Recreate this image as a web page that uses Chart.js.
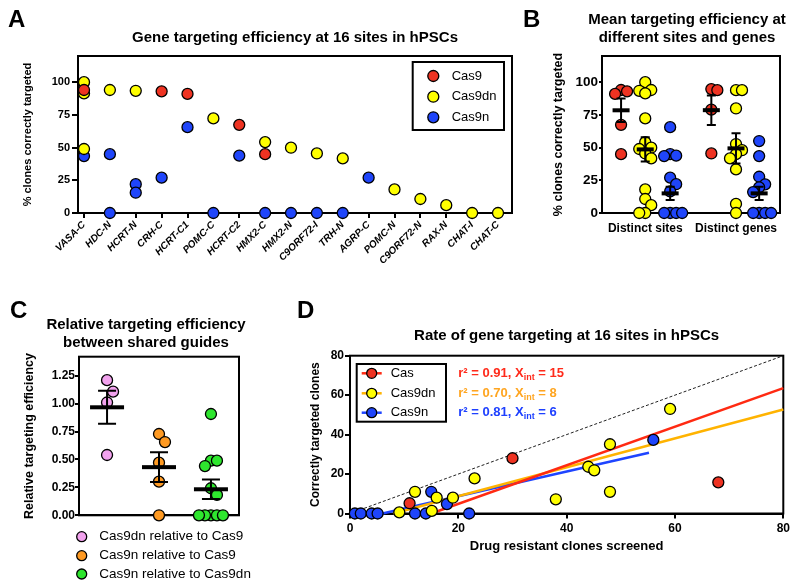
<!DOCTYPE html>
<html><head><meta charset="utf-8">
<script src="https://cdn.jsdelivr.net/npm/chart.js@4.4.1/dist/chart.umd.min.js"></script>
<style>
html,body{margin:0;padding:0;background:#fff;}
#wrap{position:relative;width:800px;height:586px;overflow:hidden;background:#fff;}
canvas{position:absolute;left:0;top:0;}
</style></head><body>
<div id="wrap">
<canvas id="cA" width="800" height="586"></canvas>
<canvas id="cB" width="800" height="586"></canvas>
<canvas id="cC" width="800" height="586"></canvas>
<canvas id="cD" width="800" height="586"></canvas>
</div>
<script>
// ================= DATA =================
// Panel A: % clones correctly targeted per site (one list of values per site)
const sitesA = ['VASA-C','HDC-N','HCRT-N','CRH-C','HCRT-C1','POMC-C','HCRT-C2','HMX2-C','HMX2-N','C9ORF72-I','TRH-N','AGRP-C','POMC-N','C9ORF72-N','RAX-N','CHAT-I','CHAT-C'];
const cas9A   = [[94],[],[],[93],[91],[],[67.4],[45],[],[],[],[],[],[],[],[],[]];
const cas9dnA = [[100,91.4,48.9],[94],[93.4],[],[],[72.3],[],[54.2],[49.9],[45.5],[41.7],[],[18],[10.7],[6],[0],[0]];
const cas9nA  = [[43.5],[45,0],[22,15.5],[27],[65.6],[0],[43.8],[0],[0],[0],[0],[27],[],[],[],[],[]];
const seriesA = ['Cas9','Cas9dn','Cas9n'];
const yTicksA = [0,25,50,75,100];

// Panel B: mean targeting efficiency
const groupsB = ['Distinct sites','Distinct genes'];
const sitesCas9B   = [94, 93, 91, 67.4, 45];
const sitesCas9dnB = [100, 94, 93.4, 91.4, 72.3, 54.2, 49.9, 48.9, 45.5, 41.7, 18, 10.7, 6, 0, 0];
const sitesCas9nB  = [65.6, 45, 43.8, 43.5, 27, 22, 16.5, 0, 0, 0, 0];
const genesCas9B   = [94.7, 93.9, 79, 45.5];
const genesCas9dnB = [93.9, 93.9, 79.9, 52.7, 48, 45, 41.7, 33.3, 6.9, 0];
const genesCas9nB  = [55, 43.5, 27.7, 21.9, 19.6, 16, 0, 0, 0, 0];
const meanSitesB = [78.5, 48.6, 15];
const semSitesB  = [9, 9.3, 5];
const meanGenesB = [78.6, 49.4, 15];
const semGenesB  = [11.3, 11.5, 5];

// Panel C: relative targeting efficiency
const labelsC = ['Cas9dn relative to Cas9','Cas9n relative to Cas9','Cas9n relative to Cas9dn'];
const dnVsCas9C = [1.21, 1.107, 1.01, 0.54];
const nVsCas9C  = [0.728, 0.656, 0.471, 0.301, 0];
const nVsDnC    = [0.907, 0.489, 0.489, 0.441, 0.242, 0.182, 0, 0, 0, 0, 0];
const meansC = [0.967, 0.431, 0.233];
const semsC  = [0.148, 0.133, 0.087];
const yTicksC = [0, 0.25, 0.5, 0.75, 1, 1.25];

// Panel D: correctly targeted clones vs drug resistant clones screened
const seriesD = ['Cas','Cas9dn','Cas9n'];
const casX    = [11, 30, 68];
const casY    = [5.2, 28, 15.8];
const cas9dnX = [9.1, 12, 15.1, 16, 19, 23, 38, 44, 45.1, 48, 48, 59.1];
const cas9dnY = [0.6, 11, 1.3, 8, 8, 17.8, 7.2, 23.7, 21.9, 35.1, 11, 53];
const cas9nX  = [0.9, 2, 4, 5.1, 12, 14, 15, 17.9, 22, 56];
const cas9nY  = [0, 0, 0, 0, 0, 0, 11, 4.8, 0, 37.3];
const fitR2    = [0.91, 0.70, 0.81];
const fitXint  = [15, 8, 6];
const fitSlope = [0.978, 0.732, 0.626];
const fitXmax  = [80, 80, 55.2];
const identityLine = [0, 80];
const ticksD = [0, 20, 40, 60, 80];

// ================= STYLE =================
const FONT = '"Liberation Sans", Arial, Helvetica, sans-serif';
Chart.defaults.font.family = FONT;
Chart.defaults.color = '#000';
const COL = {red:'#ee3322', yellow:'#ffff00', blue:'#1f45fa', pink:'#f2a2ee', orange:'#ff9a22', green:'#2ee62e',
  lineRed:'#ff2a12', lineOrange:'#ffb300', lineBlue:'#1e44ff', txtRed:'#ff2a1a', txtOrange:'#ffa520', txtBlue:'#1e40ff'};
const R = 5.5;

function fnt(size, weight='bold', style='normal'){ return {size, weight, style, family: FONT, lineHeight: 1.2}; }
function T(ctx, s, x, y, size, opt={}) {
  ctx.save();
  ctx.font = `${opt.style||'normal'} ${opt.weight||'bold'} ${size}px ${FONT}`;
  ctx.fillStyle = opt.color||'#000';
  ctx.textAlign = opt.align||'left';
  ctx.textBaseline = opt.base||'middle';
  ctx.fillText(s, x, y);
  const w = ctx.measureText(s).width;
  ctx.restore();
  return w;
}
function dot(ctx, x, y, r, fill) {
  ctx.save(); ctx.beginPath(); ctx.arc(x, y, r, 0, Math.PI*2);
  ctx.fillStyle = fill; ctx.fill(); ctx.lineWidth = 1.3; ctx.strokeStyle = '#000'; ctx.stroke(); ctx.restore();
}
function axis({min, max, ticks, size, tickFont, tickPad=2, tickLen=5, showTicks=true, showLabels=true, rot=0, fmt=(v)=>String(v), title=null, titleFont=null, titlePad=0}) {
  return {
    type:'linear', min, max,
    afterBuildTicks: s => { s.ticks = ticks.map(v => ({value:v})); },
    afterFit: s => { if (s.isHorizontal()) s.height = size; else s.width = size; },
    ticks: {display: showLabels, autoSkip:false, maxRotation:rot, minRotation:rot, font: tickFont||fnt(11), color:'#000', padding: tickPad, callback: fmt},
    grid: {display:true, drawOnChartArea:false, drawTicks: showTicks, tickLength: tickLen, tickWidth:2, tickColor:'#000', color:'#000', lineWidth:2},
    border: {display:true, color:'#000', width:2},
    title: title ? {display:true, text:title, font:titleFont, color:'#000', padding:titlePad} : {display:false}
  };
}
const framePlugin = {id:'frame', beforeDatasetsDraw(chart){
  const {ctx, chartArea:a} = chart; ctx.save(); ctx.strokeStyle='#000'; ctx.lineWidth=2;
  ctx.strokeRect(a.left, a.top, a.right-a.left, a.bottom-a.top); ctx.restore(); }};
function ptsDataset(points, color, label) {
  return {label, data: points, backgroundColor: color, borderColor:'#000', borderWidth:1.3,
    pointRadius:R, pointHoverRadius:R, clip:false};
}
function swarm(vals, pxX, pxY, slot, gap) {
  const idx = vals.map((_, i) => i).sort((a, b) => vals[b] - vals[a]);
  const placed = [], off = new Array(vals.length).fill(0);
  const tries = [0, 1, -1, 2, -2, 3, -3, 4, -4, 5, -5];
  idx.forEach(i => {
    for (const k of tries) {
      if (!placed.some(p => p.k === k && Math.abs(p.v - vals[i]) * pxY < gap)) {
        placed.push({k, v: vals[i]}); off[i] = k * slot / pxX; break;
      }
    }
  });
  return off;
}
function meanSemPlugin(groups, halfBar, halfCap, thick) {
  return {id:'meanSem', afterDatasetsDraw(chart) {
    const {ctx, scales:{x, y}} = chart;
    ctx.save(); ctx.strokeStyle='#000'; ctx.fillStyle='#000'; ctx.lineWidth=2;
    groups.forEach(g => {
      const cx = x.getPixelForValue(g.x), ym = y.getPixelForValue(g.mean);
      const yt = y.getPixelForValue(g.mean + g.sem), yb = y.getPixelForValue(g.mean - g.sem);
      ctx.beginPath(); ctx.moveTo(cx, yt); ctx.lineTo(cx, yb);
      ctx.moveTo(cx-halfCap, yt); ctx.lineTo(cx+halfCap, yt);
      ctx.moveTo(cx-halfCap, yb); ctx.lineTo(cx+halfCap, yb); ctx.stroke();
      ctx.fillRect(cx-halfBar, ym-thick/2, 2*halfBar, thick);
    });
    ctx.restore();
  }};
}
const base = (padding) => ({responsive:false, animation:false, devicePixelRatio:1, events:[],
  layout:{padding}, plugins:{legend:{display:false}, tooltip:{enabled:false}, title:{display:false}}});

// ================= PANEL A =================
(function(){
  const colors = [COL.red, COL.yellow, COL.blue];
  const lists = [cas9A, cas9dnA, cas9nA];
  const datasets = lists.map((lst, s) => ptsDataset(
    lst.flatMap((vals, i) => vals.map(v => ({x:i, y:v}))), colors[s], seriesA[s]));
  const opts = base({left:18, right:288, top:56, bottom:303});
  opts.scales = {
    x: axis({min:-0.232, max:16.541, ticks: sitesA.map((_, i) => i), size:70, rot:45,
      tickFont: fnt(10, 'bold', 'italic'), tickPad:1, tickLen:5, fmt: v => sitesA[v]}),
    y: axis({min:0, max:120, ticks:yTicksA, size:60, tickFont: fnt(11), tickPad:2, tickLen:6,
      title:'% clones correctly targeted', titleFont: fnt(11), titlePad:{top:3.4, bottom:0}})
  };
  const deco = {id:'decoA', afterDraw(chart){
    const {ctx, chartArea:a} = chart;
    T(ctx, 'A', 8, 27, 24, {base:'alphabetic'});
    T(ctx, 'Gene targeting efficiency at 16 sites in hPSCs', (a.left+a.right)/2, 38, 15, {align:'center'});
    ctx.save(); ctx.lineWidth=2; ctx.strokeStyle='#000'; ctx.strokeRect(412.7, 62, 91.3, 68); ctx.restore();
    const ys = [76, 96.7, 117.3];
    seriesA.forEach((s, i) => { dot(ctx, 433.3, ys[i], R, colors[i]); T(ctx, s, 451.7, ys[i], 13, {weight:'normal'}); });
  }};
  new Chart(document.getElementById('cA'), {type:'scatter', data:{datasets}, options:opts, plugins:[framePlugin, deco]});
})();

// ================= PANEL B =================
(function(){
  const posX = [[0.75, 1.7, 2.68], [4.3, 5.27, 6.18]];   // layout: column centres
  const colors = [COL.red, COL.yellow, COL.blue];
  const sets = [[sitesCas9B, sitesCas9dnB, sitesCas9nB], [genesCas9B, genesCas9dnB, genesCas9nB]];
  const means = [meanSitesB, meanGenesB], sems = [semSitesB, semGenesB];
  const pxX = 178/7, pxY = 157/120;
  const datasets = [], groups = [];
  sets.forEach((grp, g) => grp.forEach((vals, s) => {
    const off = swarm(vals, pxX, pxY, 6, 9);
    datasets.push(ptsDataset(vals.map((v, i) => ({x: posX[g][s] + off[i], y: v})), colors[s], seriesA[s]));
    groups.push({x: posX[g][s], mean: means[g][s], sem: sems[g][s]});
  }));
  const opts = base({left:550, right:20, top:56, bottom:343});
  opts.scales = {
    x: axis({min:0, max:7, ticks:[posX[0][1], posX[1][1]], size:30, showTicks:false, tickPad:8.1,
      tickFont: fnt(12), fmt: (v, i) => groupsB[i]}),
    y: axis({min:0, max:120, ticks:yTicksA, size:52, tickFont: fnt(13.5), tickPad:1, tickLen:3,
      title:'% clones correctly targeted', titleFont: fnt(12.5), titlePad:{top:1.5, bottom:0}})
  };
  const deco = {id:'decoB', afterDraw(chart){
    const {ctx} = chart;
    T(ctx, 'B', 523, 27, 24, {base:'alphabetic'});
    T(ctx, 'Mean targeting efficiency at', 687, 20, 15, {align:'center'});
    T(ctx, 'different sites and genes', 687, 37.7, 15, {align:'center'});
  }};
  new Chart(document.getElementById('cB'), {type:'scatter', data:{datasets}, options:opts,
    plugins:[framePlugin, meanSemPlugin(groups, 8.5, 4.5, 4), deco]});
})();

// ================= PANEL C =================
(function(){
  const posX = [1, 2, 3];
  const colors = [COL.pink, COL.orange, COL.green];
  const lists = [dnVsCas9C, nVsCas9C, nVsDnC];
  const pxX = 160/3.08, pxY = 158.6/1.42;
  const datasets = lists.map((vals, s) => {
    const off = swarm(vals, pxX, pxY, 6, 12);
    return ptsDataset(vals.map((v, i) => ({x: posX[s] + off[i], y: v})), colors[s], labelsC[s]);
  });
  const groups = posX.map((x, s) => ({x, mean: meansC[s], sem: semsC[s]}));
  const opts = base({left:19, right:561, top:356.7, bottom:60.7});
  opts.scales = {
    x: axis({min:0.46, max:3.54, ticks:[], size:10, showTicks:false, showLabels:false}),
    y: axis({min:0, max:1.42, ticks:yTicksC, size:60, tickFont: fnt(12), tickPad:0, tickLen:4,
      fmt: v => v.toFixed(2), title:'Relative targeting efficiency', titleFont: fnt(12.5), titlePad:{top:3.5, bottom:0}})
  };
  const deco = {id:'decoC', afterDraw(chart){
    const {ctx} = chart;
    T(ctx, 'C', 10, 318, 24, {base:'alphabetic'});
    T(ctx, 'Relative targeting efficiency', 146, 325, 15, {align:'center'});
    T(ctx, 'between shared guides', 146, 343.3, 15, {align:'center'});
    const ys = [536.7, 555.7, 574];
    labelsC.forEach((s, i) => { dot(ctx, 81.7, ys[i], 5, colors[i]); T(ctx, s, 99.3, ys[i], 13.5, {weight:'normal'}); });
  }};
  new Chart(document.getElementById('cC'), {type:'scatter', data:{datasets}, options:opts,
    plugins:[framePlugin, meanSemPlugin(groups, 17, 9, 4), deco]});
})();

// ================= PANEL D =================
(function(){
  const ptColors = [COL.red, COL.yellow, COL.blue];
  const lineColors = [COL.lineRed, COL.lineOrange, COL.lineBlue];
  const txtColors = [COL.txtRed, COL.txtOrange, COL.txtBlue];
  const xs = [casX, cas9dnX, cas9nX], ys = [casY, cas9dnY, cas9nY];
  const datasets = xs.map((X, s) => ptsDataset(X.map((x, i) => ({x, y: ys[s][i]})), ptColors[s], seriesD[s]));
  fitXint.forEach((xi, s) => datasets.push({label: seriesD[s] + ' fit', showLine:true, pointRadius:0, borderColor: lineColors[s],
    borderWidth:2.5, clip:false, data:[{x: xi, y: 0}, {x: fitXmax[s], y: fitSlope[s] * (fitXmax[s] - xi)}]}));
  datasets.push({label:'identity', showLine:true, pointRadius:0, borderColor:'#222', borderWidth:1, borderDash:[3,2],
    data: identityLine.map(v => ({x: v, y: v}))});
  const opts = base({left:300, right:16.7, top:355.7, bottom:22.5});
  opts.scales = {
    x: axis({min:0, max:80, ticks:ticksD, size:50, tickFont: fnt(12), tickPad:2.6, tickLen:5,
      title:'Drug resistant clones screened', titleFont: fnt(13), titlePad:{top:0, bottom:9}}),
    y: axis({min:0, max:80, ticks:ticksD, size:50, tickFont: fnt(12), tickPad:1, tickLen:5,
      title:'Correctly targeted clones', titleFont: fnt(12), titlePad:{top:8.5, bottom:0}})
  };
  const deco = {id:'decoD', afterDraw(chart){
    const {ctx, chartArea:a} = chart;
    T(ctx, 'D', 297, 318, 24, {base:'alphabetic'});
    T(ctx, 'Rate of gene targeting at 16 sites in hPSCs', (a.left+a.right)/2, 336, 15, {align:'center'});
    ctx.save(); ctx.lineWidth=2; ctx.strokeStyle='#000'; ctx.strokeRect(356.7, 364, 89.3, 57.7); ctx.restore();
    const ly = [373.3, 393.3, 412.7];
    seriesD.forEach((s, i) => {
      ctx.save(); ctx.strokeStyle = lineColors[i]; ctx.lineWidth = 2.5; ctx.beginPath();
      ctx.moveTo(361.7, ly[i]); ctx.lineTo(381.7, ly[i]); ctx.stroke(); ctx.restore();
      dot(ctx, 371.7, ly[i], 5, ptColors[i]);
      T(ctx, s, 390.7, ly[i], 13, {weight:'normal'});
      let x = 458.3;
      x += T(ctx, `r² = ${fitR2[i].toFixed(2)}, X`, x, ly[i], 13, {color: txtColors[i]});
      x += T(ctx, 'int', x, ly[i] + 4, 9, {color: txtColors[i]});
      T(ctx, ` = ${fitXint[i]}`, x, ly[i], 13, {color: txtColors[i]});
    });
  }};
  new Chart(document.getElementById('cD'), {type:'scatter', data:{datasets}, options:opts, plugins:[framePlugin, deco]});
})();
</script>
</body></html>
